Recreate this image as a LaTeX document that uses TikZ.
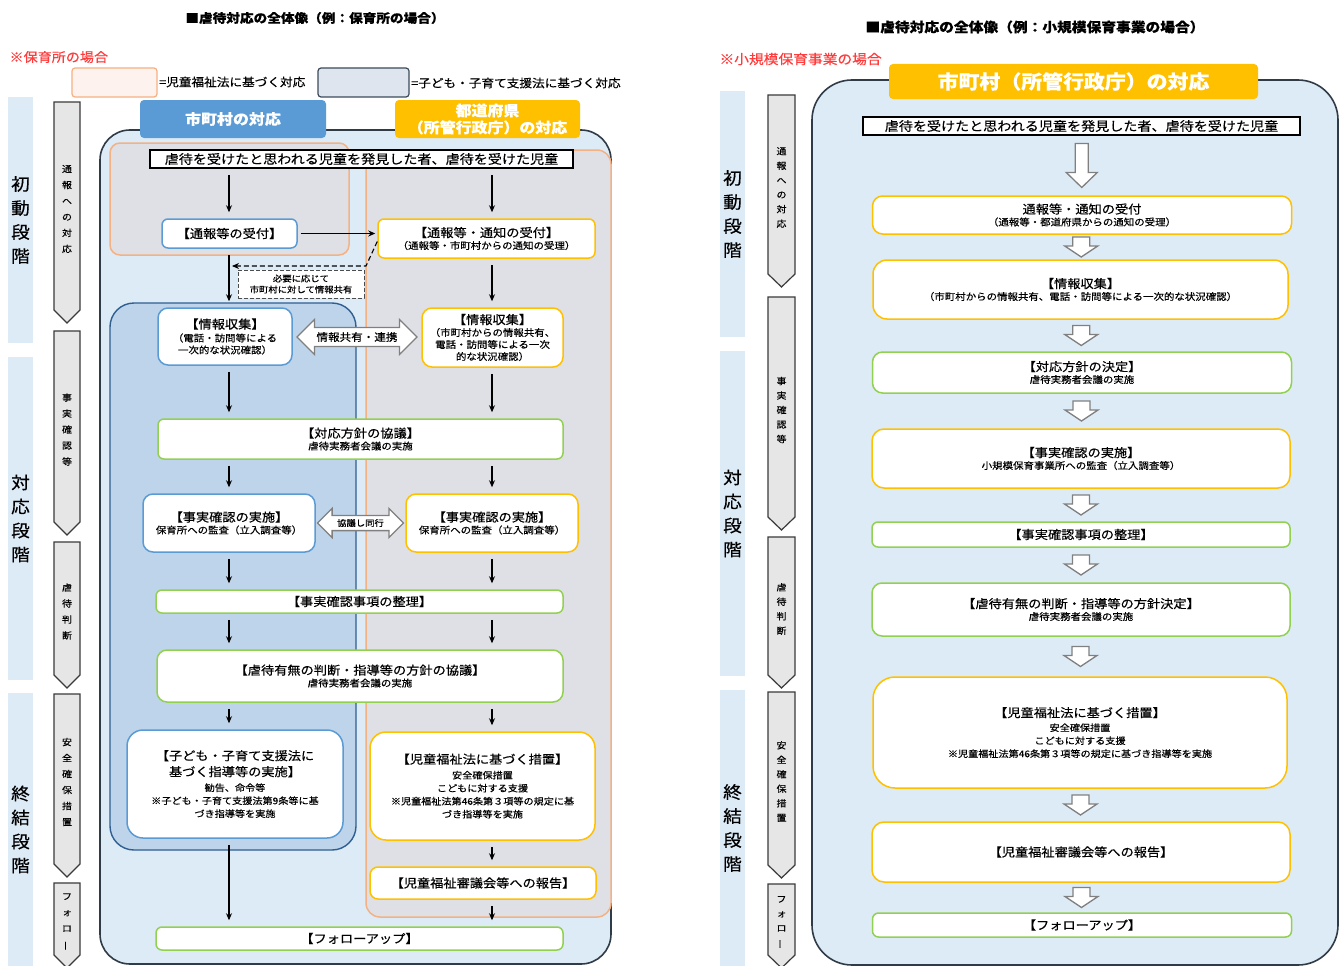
\documentclass[tikz,border=0pt]{standalone}
\usepackage{fontspec}
\usepackage{graphicx}
\setmainfont{Noto Sans CJK JP}[FakeStretch=1.1,FakeBold=0.4]
\usetikzlibrary{arrows.meta,shapes.arrows,calc}

\definecolor{phaseblue}{HTML}{DDEBF7}
\definecolor{outerline}{HTML}{2F3B47}
\definecolor{muniblue}{HTML}{5B9BD5}
\definecolor{prefyellow}{HTML}{FFC000}
\definecolor{jointgreen}{HTML}{92D050}
\definecolor{salmon}{HTML}{F4B183}
\definecolor{legendpink}{HTML}{FDF2EE}
\definecolor{legendgray}{HTML}{DEE5EE}
\definecolor{legendline}{HTML}{3C4B5B}
\definecolor{regiongray}{HTML}{DFE0E5}
\definecolor{innerblue}{HTML}{BED4EA}
\definecolor{innerline}{HTML}{2F5F91}
\definecolor{chevgray}{HTML}{E6E6E6}
\definecolor{chevline}{HTML}{3A3A3A}
\definecolor{notered}{HTML}{FF3B3B}

\newcommand{\fsBody}{\fontsize{12}{14}\selectfont}
\newcommand{\fsSub}{\fontsize{9.5}{12}\selectfont}
\newcommand{\ttl}[1]{{\fsBody #1}}
\newcommand{\vbar}{\rotatebox[origin=c]{90}{ー}}

\begin{document}
\begin{tikzpicture}[x=1pt,y=-1pt,
    flowbox/.style={draw,fill=white,line width=1.5pt,rounded corners=6pt,align=center,inner sep=0pt,font=\fsBody},
    munibox/.style={flowbox,draw=muniblue},
    prefbox/.style={flowbox,draw=prefyellow},
    jointbox/.style={flowbox,draw=jointgreen},
    findbox/.style={draw=black,fill=white,line width=1.5pt,inner sep=0pt,font=\fontsize{12.8}{14}\selectfont},
    flowarrow/.style={-{Stealth[length=7pt,width=6pt]},line width=1.1pt,shorten <=6pt,shorten >=6pt},
    hollowarrow/.style={draw=gray,fill=white,line width=1.3pt,line join=miter},
    linkarrow/.style={double arrow,draw=gray,fill=white,line width=1.3pt,inner xsep=2pt},
    chevron/.style={fill=chevgray,draw=chevline,line width=1.2pt},
    phasebar/.style={fill=phaseblue},
    headerbox/.style={text=white,font=\bfseries\fontsize{14.5}{17}\selectfont,align=center,rounded corners=4pt,inner sep=0pt},
    stagetext/.style={align=center,font=\fontsize{9}{16}\selectfont},
    phasetext/.style={align=center,font=\fontsize{17}{24}\selectfont}]

          \fill[white] (0,0) rectangle (1342,966);
          \useasboundingbox (0,0) rectangle (1342,966);

          \node[font=\bfseries\fontsize{12.4}{14}\selectfont] (ltitle) at (315,18) {■虐待対応の全体像（例：保育所の場合）};
          \node[anchor=west,text=notered,font=\fontsize{12.8}{14}\selectfont] (lnote) at (6,57) {※保育所の場合};
          \draw[salmon,fill=legendpink,line width=1.2pt,rounded corners=3pt] (72,68) rectangle (157,97);
          \node[anchor=west,inner sep=1pt,font=\fontsize{11.5}{13}\selectfont] (lleg1) at (158,82) {=児童福祉法に基づく対応};
          \draw[legendline,fill=legendgray,line width=1.2pt,rounded corners=3pt] (318,68) rectangle (409,97);
          \node[anchor=west,inner sep=1pt,font=\fontsize{11.5}{13}\selectfont] (lleg2) at (410,83) {=子ども・子育て支援法に基づく対応};

          \foreach \ya/\yb/\txt in {97/343/{初\\動\\段\\階},357/680/{対\\応\\段\\階},693/966/{終\\結\\段\\階}}
          {
            \fill[phasebar] (8,\ya) rectangle (33,\yb);
            \node[phasetext] (lphase\ya) at (20.5,{(\ya+\yb)/2}) {\txt};
          }
          \foreach \ya/\yb/\txt in {102/323/{通\\報\\へ\\の\\対\\応},331/535/{事\\実\\確\\認\\等},542/688/{虐\\待\\判\\断},694/877/{安\\全\\確\\保\\措\\置},883/968/{フ\\ォ\\ロ\\\vbar}}
          {
            \draw[chevron] (54,\ya) -- (80,\ya) -- (80,\yb-13) -- (67,\yb) -- (54,\yb-13) -- cycle;
            \node[stagetext] (lstage\ya) at (67,{(\ya+\yb-13)/2+3}) {\txt};
          }

          \draw[outerline,fill=phaseblue,line width=1.6pt,rounded corners=30pt] (100,130) rectangle (611,964);
          \draw[salmon,fill=regiongray,line width=1.5pt,rounded corners=10pt] (110,143) rectangle (349,255);
          \draw[salmon,fill=regiongray,line width=1.5pt,rounded corners=14pt] (366,150) rectangle (611,917);
          \draw[innerline,fill=innerblue,line width=1.4pt,rounded corners=24pt] (110,303) rectangle (356,850);

          \node[headerbox,fill=muniblue,minimum width=186pt,minimum height=38pt] (lmunihead) at (233,119) {市町村の対応};
          \node[headerbox,fill=prefyellow,minimum width=185pt,minimum height=38pt] (lprefhead) at (487.5,119) {都道府県\\（所管行政庁）の対応};

          \coordinate (lcol) at (229,0);
          \coordinate (rcol) at (492,0);

          \node[findbox,minimum width=423pt,minimum height=18pt] (lfind) at (361.5,159) {虐待を受けたと思われる児童を発見した者、虐待を受けた児童};
          \node[munibox,minimum width=135pt,minimum height=29pt] (lmrcv) at (229.5,233.5) {【通報等の受付】};
          \node[prefbox,minimum width=217pt,minimum height=39pt,font=\fsSub] (lprcv) at (486.5,238.5) {\ttl{【通報等・通知の受付】}\\（通報等・市町村からの通知の受理）};
          \node[draw=gray!60!black,dash pattern=on 4pt off 2pt,fill=white,line width=1pt,minimum width=126pt,minimum height=28pt,align=center,inner sep=0pt,font=\fontsize{8.5}{11}\selectfont] (lshare) at (301,284) {必要に応じて\\市町村に対して情報共有};
          \node[munibox,minimum width=134pt,minimum height=57pt,rounded corners=10pt,font=\fsSub] (lminfo) at (225,336.5) {\ttl{【情報収集】}\\[1pt]（電話・訪問等による\\一次的な状況確認）};
          \node[prefbox,minimum width=141pt,minimum height=59pt,rounded corners=10pt,font=\fsSub] (lpinfo) at (492.5,337.5) {\ttl{【情報収集】}\\（市町村からの情報共有、\\電話・訪問等による一次\\的な状況確認）};
          \node[jointbox,minimum width=405pt,minimum height=40pt,font=\fsSub] (lpolicy) at (360.5,439) {\ttl{【対応方針の協議】}\\虐待実務者会議の実施};
          \node[munibox,minimum width=172pt,minimum height=58pt,rounded corners=10pt,font=\fsSub] (lmcheck) at (229,523) {\ttl{【事実確認の実施】}\\保育所への監査（立入調査等）};
          \node[prefbox,minimum width=172pt,minimum height=58pt,rounded corners=10pt,font=\fsSub] (lpcheck) at (492,523) {\ttl{【事実確認の実施】}\\保育所への監査（立入調査等）};
          \node[jointbox,minimum width=407pt,minimum height=23pt] (lsort) at (359.5,601.5) {【事実確認事項の整理】};
          \node[jointbox,minimum width=406pt,minimum height=52pt,rounded corners=10pt,font=\fsSub] (ljudge) at (360,676) {\ttl{【虐待有無の判断・指導等の方針の協議】}\\虐待実務者会議の実施};
          \node[munibox,minimum width=216pt,minimum height=108pt,rounded corners=16pt,font=\fontsize{9.2}{13}\selectfont] (lmact) at (235,784) {\ttl{【子ども・子育て支援法に}\\[3pt]\ttl{基づく指導等の実施】}\\[2pt]勧告、命令等\\※子ども・子育て支援法第9条等に基\\づき指導等を実施};
          \node[prefbox,minimum width=225pt,minimum height=108pt,rounded corners=16pt,font=\fontsize{9.2}{13}\selectfont] (lpact) at (482.5,786) {\ttl{【児童福祉法に基づく措置】}\\[2pt]安全確保措置\\こどもに対する支援\\※児童福祉法第46条第３項等の規定に基\\づき指導等を実施};
          \node[prefbox,minimum width=226pt,minimum height=32pt,rounded corners=8pt] (lreport) at (483,883) {【児童福祉審議会等への報告】};
          \node[jointbox,minimum width=407pt,minimum height=23pt] (lfollow) at (359.5,938.5) {【フォローアップ】};

          \node[linkarrow,minimum height=120pt,inner ysep=4pt,double arrow head extend=8pt,font=\fontsize{10.5}{12}\selectfont] (linfolink) at ($(lminfo.east)!0.5!(lpinfo.west)$) {情報共有・連携};
          \node[linkarrow,minimum height=86pt,inner ysep=3pt,double arrow head extend=7pt,font=\fontsize{8.5}{10}\selectfont] (lchecklink) at ($(lmcheck.east)!0.5!(lpcheck.west)$) {協議し同行};

          \draw[flowarrow] (lfind.south -| lcol) -- (lmrcv.north -| lcol);
          \draw[flowarrow] (lmrcv.south -| lcol) -- (lminfo.north -| lcol);
          \draw[flowarrow] (lminfo.south -| lcol) -- (lpolicy.north -| lcol);
          \draw[flowarrow] (lpolicy.south -| lcol) -- (lmcheck.north -| lcol);
          \draw[flowarrow] (lmcheck.south -| lcol) -- (lsort.north -| lcol);
          \draw[flowarrow] (lsort.south -| lcol) -- (ljudge.north -| lcol);
          \draw[flowarrow] (ljudge.south -| lcol) -- (lmact.north -| lcol);
          \draw[flowarrow] (lmact.south -| lcol) -- (lfollow.north -| lcol);

          \draw[flowarrow] (lfind.south -| rcol) -- (lprcv.north -| rcol);
          \draw[flowarrow] (lprcv.south -| rcol) -- (lpinfo.north -| rcol);
          \draw[flowarrow] (lpinfo.south -| rcol) -- (lpolicy.north -| rcol);
          \draw[flowarrow] (lpolicy.south -| rcol) -- (lpcheck.north -| rcol);
          \draw[flowarrow] (lpcheck.south -| rcol) -- (lsort.north -| rcol);
          \draw[flowarrow] (lsort.south -| rcol) -- (ljudge.north -| rcol);
          \draw[flowarrow] (ljudge.south -| rcol) -- (lpact.north -| rcol);
          \draw[flowarrow] (lpact.south -| rcol) -- (lreport.north -| rcol);
          \draw[flowarrow] (lreport.south -| rcol) -- (lfollow.north -| rcol);

          \draw[flowarrow,shorten <=3pt,shorten >=2pt] (lmrcv.east) -- (lmrcv.east -| lprcv.west);
          \coordinate (lsharebend) at (366,266);
          \draw[flowarrow,dash pattern=on 5pt off 3pt,shorten <=0pt,shorten >=3pt] ($(lprcv.west)+(0,3)$) -- (lsharebend) -- (lsharebend -| lcol);

          \node[font=\bfseries\fontsize{13.4}{15}\selectfont] (rtitle) at (1035,27) {■虐待対応の全体像（例：小規模保育事業の場合）};
          \node[anchor=west,text=notered,font=\fontsize{13.4}{15}\selectfont] (rnote) at (716,59) {※小規模保育事業の場合};

          \foreach \ya/\yb/\txt in {91/337/{初\\動\\段\\階},351/676/{対\\応\\段\\階},690/966/{終\\結\\段\\階}}
          {
            \fill[phasebar] (720,\ya) rectangle (745,\yb);
            \node[phasetext] (rphase\ya) at (732.5,{(\ya+\yb)/2}) {\txt};
          }
          \foreach \ya/\yb/\txt in {95/287/{通\\報\\へ\\の\\対\\応},297/530/{事\\実\\確\\認\\等},537/688/{虐\\待\\判\\断},692/878/{安\\全\\確\\保\\措\\置},884/968/{フ\\ォ\\ロ\\\vbar}}
          {
            \draw[chevron] (768,\ya) -- (795,\ya) -- (795,\yb-13) -- (781.5,\yb) -- (768,\yb-13) -- cycle;
            \node[stagetext,font=\fontsize{9}{14.5}\selectfont] (rstage\ya) at (781.5,{(\ya+\yb-13)/2+3}) {\txt};
          }

          \draw[outerline,fill=phaseblue,line width=1.6pt,rounded corners=40pt] (812,80) rectangle (1338,965);
          \node[headerbox,fill=prefyellow,minimum width=369pt,minimum height=35pt,font=\bfseries\fontsize{19}{22}\selectfont] (rhead) at (1073.5,81.5) {市町村（所管行政庁）の対応};

          \node[findbox,minimum width=437pt,minimum height=18pt] (rfind) at (1081.5,126) {虐待を受けたと思われる児童を発見した者、虐待を受けた児童};
          \node[prefbox,minimum width=419pt,minimum height=38pt,rounded corners=10pt,font=\fsSub] (rrcv) at (1082,215) {\ttl{通報等・通知の受付}\\（通報等・都道府県からの通知の受理）};
          \node[prefbox,minimum width=415pt,minimum height=59pt,rounded corners=14pt,font=\fsSub] (rinfo) at (1080.5,289.5) {\ttl{【情報収集】}\\（市町村からの情報共有、電話・訪問等による一次的な状況確認）};
          \node[jointbox,minimum width=419pt,minimum height=41pt,rounded corners=10pt,font=\fsSub] (rpolicy) at (1082,372.5) {\ttl{【対応方針の決定】}\\虐待実務者会議の実施};
          \node[prefbox,minimum width=418pt,minimum height=59pt,rounded corners=12pt,font=\fsSub] (rcheck) at (1081,458.5) {\ttl{【事実確認の実施】}\\小規模保育事業所への監査（立入調査等）};
          \node[jointbox,minimum width=418pt,minimum height=25pt] (rsort) at (1081,534.5) {【事実確認事項の整理】};
          \node[jointbox,minimum width=418pt,minimum height=53pt,rounded corners=10pt,font=\fsSub] (rjudge) at (1081,609.5) {\ttl{【虐待有無の判断・指導等の方針決定】}\\虐待実務者会議の実施};
          \node[prefbox,minimum width=414pt,minimum height=111pt,rounded corners=22pt,font=\fontsize{9.2}{13}\selectfont] (ract) at (1080,732.5) {\ttl{【児童福祉法に基づく措置】}\\[1pt]安全確保措置\\こどもに対する支援\\※児童福祉法第46条第３項等の規定に基づき指導等を実施};
          \node[prefbox,minimum width=418pt,minimum height=60pt,rounded corners=12pt] (rreport) at (1081,852) {【児童福祉審議会等への報告】};
          \node[jointbox,minimum width=419pt,minimum height=24pt] (rfollow) at (1082,925) {【フォローアップ】};

          \coordinate (rdown0) at ($(rfind.south)!0.5!(rrcv.north)$);
          \draw[hollowarrow] (rdown0) ++(-6.5,-22) -- ++(13,0) -- ++(0,29) -- ++(9,0) -- ++(-15.5,15) -- ++(-15.5,-15) -- ++(9,0) -- cycle;
          \foreach \a/\b [count=\i] in {rrcv/rinfo,rinfo/rpolicy,rpolicy/rcheck,rcheck/rsort,rsort/rjudge,rjudge/ract,ract/rreport,rreport/rfollow}
          {
            \coordinate (rdown\i) at ($(\a.south)!0.5!(\b.north)$);
            \draw[hollowarrow] (rdown\i) ++(-8.5,-10) -- ++(17,0) -- ++(0,9) -- ++(8,0) -- ++(-16.5,11) -- ++(-16.5,-11) -- ++(8,0) -- cycle;
          }
        \end{tikzpicture}
\end{document}
